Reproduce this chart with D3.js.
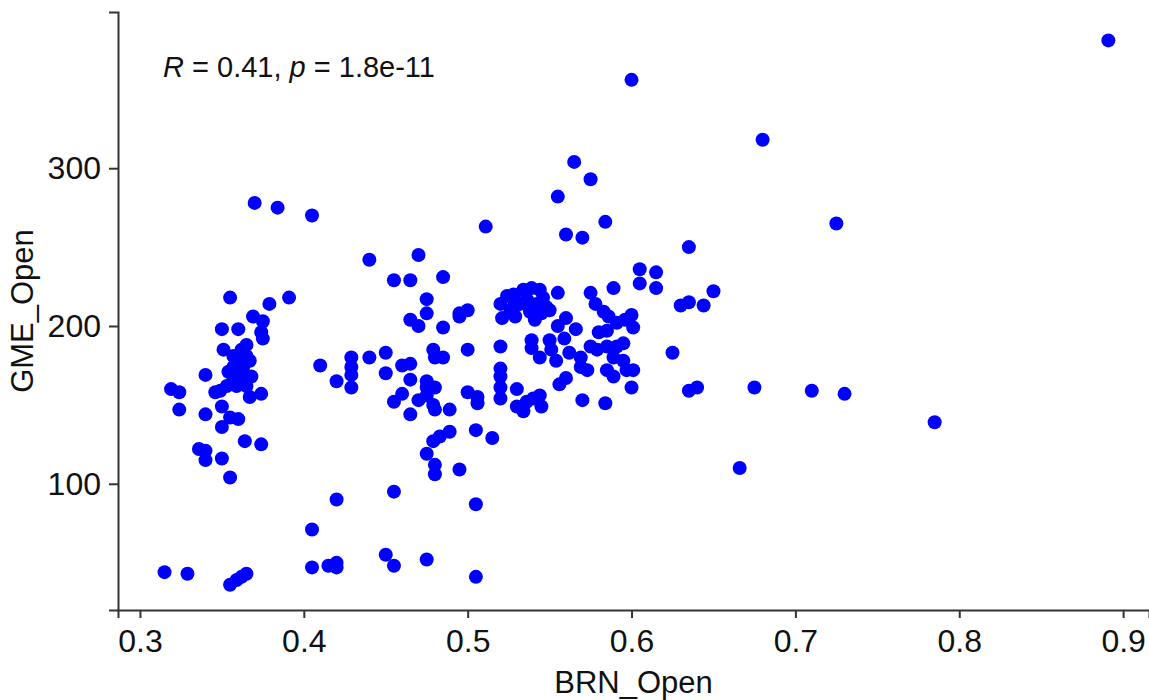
<!DOCTYPE html>
<html>
<head>
<meta charset="utf-8">
<script src="https://cdn.jsdelivr.net/npm/d3@7"></script>
<style>
  body { margin: 0; background: #fff; }
  svg { display: block; font-family: "Liberation Sans", Arial, sans-serif; }
</style>
</head>
<body>
<svg width="1149" height="700"></svg>
<script>
// BRN_Open (x) and GME_Open (y), same order in both arrays
var brnOpen = [
  // left cluster
  0.355,0.379,0.391,0.369,0.375,0.350,0.360,0.374,0.375,0.365,
  0.351,0.357,0.365,0.357,0.363,0.357,0.363,0.353,0.359,0.365,
  0.349,0.367,0.346,0.360,0.354,0.340,0.319,0.324,0.374,0.324,
  0.340,0.350,0.355,0.360,0.350,0.364,0.374,0.336,0.340,0.340,
  0.350,0.355,0.370,0.384,0.405,0.315,0.329,0.355,0.359,0.362,
  0.365,0.361,0.367,0.362,0.358,0.368,
  // middle cluster
  0.440,0.470,0.455,0.465,0.485,0.475,0.475,0.465,0.470,0.485,
  0.495,0.500,0.495,0.479,0.480,0.485,0.500,0.410,0.429,0.429,
  0.429,0.420,0.429,0.440,0.450,0.450,0.460,0.465,0.465,0.475,
  0.475,0.480,0.475,0.470,0.460,0.455,0.479,0.480,0.489,0.465,
  0.500,0.506,0.506,0.505,0.515,0.489,0.483,0.479,0.475,0.480,
  0.480,0.495,0.455,0.420,0.505,0.405,0.405,0.415,0.420,0.420,
  0.450,0.455,0.475,0.505,
  // right-middle cluster
  0.589,0.605,0.615,0.605,0.615,0.555,0.575,0.520,0.524,0.528,
  0.534,0.539,0.544,0.521,0.529,0.528,0.536,0.542,0.548,0.541,
  0.545,0.550,0.520,0.539,0.539,0.550,0.551,0.555,0.560,0.566,
  0.559,0.544,0.554,0.562,0.569,0.575,0.579,0.569,0.573,0.578,
  0.583,0.586,0.591,0.596,0.600,0.601,0.580,0.585,0.585,0.591,
  0.595,0.589,0.595,0.585,0.589,0.597,0.601,0.600,0.520,0.520,
  0.520,0.520,0.530,0.556,0.560,0.530,0.536,0.540,0.544,0.545,
  0.534,0.570,0.584,0.532,0.538,0.526,0.546,
  // upper and right
  0.565,0.575,0.555,0.511,0.584,0.560,0.570,0.635,0.650,0.630,
  0.635,0.644,0.625,0.635,0.640,0.891,0.600,0.680,0.725,0.785,
  0.666,0.675,0.710,0.730
];
var gmeOpen = [
  218,214,218,206,203,198,198,196,192,188,
  185,181,181,174,174,168,168,162,162,162,
  159,155,158,177,171,169,160,158,157,147,
  144,149,142,141,136,127,125,122,121,115,
  116,104,278,275,270,44,43,36,39,41,
  43,171,178,185,165,168,

  242,245,229,229,231,217,208,204,200,199,
  208,210,206,185,180,180,185,175,180,174,
  169,165,161,180,183,170,175,176,166,165,
  161,161,156,153,157,152,150,147,147,144,
  158,155,151,134,129,133,130,127,119,112,
  106,109,95,90,87,71,47,48,50,47,
  55,48,52,41,

  224,236,234,227,224,221,221,214,219,220,
  223,224,223,205,206,212,217,214,212,204,
  208,210,187,191,186,191,185,200,205,198,
  192,180,178,183,180,187,185,174,172,214,
  209,206,202,204,207,199,196,197,187,187,
  189,180,178,172,168,172,172,161,173,168,
  161,154,160,163,167,149,152,154,156,149,
  146,153,151,214,209,209,218,

  304,293,282,263,266,258,256,250,222,213,
  215,213,183,159,161,381,356,318,265,139,
  110,161,159,157
];
var xTicks = [0.3, 0.4, 0.5, 0.6, 0.7, 0.8, 0.9];
var yTicks = [100, 200, 300];
var xTitle = "BRN_Open", yTitle = "GME_Open";
var statR = "0.41", statP = "1.8e-11";

var data = brnOpen.map(function(b, i) { return { x: b, y: gmeOpen[i] }; });

var svg = d3.select("svg");
var pLeft = 118, pRight = 1149, pTop = 12, pBottom = 610;

var scX = d3.scaleLinear().domain([0.2866, 0.9158]).range([pLeft, pRight]);
var scY = d3.scaleLinear().domain([20, 399]).range([pBottom, pTop]);

// axes
var gx = svg.append("g").attr("transform", "translate(0," + pBottom + ")")
    .call(d3.axisBottom(scX).tickValues(xTicks).tickFormat(d3.format(".1f"))
          .tickSizeOuter(0).tickSize(8).tickPadding(11));
var gy = svg.append("g").attr("transform", "translate(" + pLeft + ",0)")
    .call(d3.axisLeft(scY).tickValues(yTicks).tickSizeOuter(0).tickSize(9).tickPadding(8));

[gx, gy].forEach(function(g) {
    g.select(".domain").attr("stroke", "#333").attr("stroke-width", 2);
    g.selectAll(".tick line").attr("stroke", "#333").attr("stroke-width", 2);
    g.selectAll(".tick text").attr("fill", "#111").style("font-size", "32px")
        .style("font-family", "'Liberation Sans', Arial, sans-serif");
});

// points
svg.append("g").selectAll("circle")
    .data(data).enter().append("circle")
    .attr("cx", d => scX(d.x))
    .attr("cy", d => scY(d.y))
    .attr("r", 7)
    .attr("fill", "#0000FF");

// axis titles
svg.append("text")
    .attr("x", (pLeft + pRight) / 2).attr("y", 693)
    .attr("text-anchor", "middle")
    .style("font-size", "31px").attr("fill", "#111")
    .text(xTitle);
svg.append("text")
    .attr("transform", "translate(33," + ((pTop + pBottom) / 2) + ") rotate(-90)")
    .attr("text-anchor", "middle")
    .style("font-size", "31px").attr("fill", "#111")
    .text(yTitle);

// correlation label
var lab = svg.append("text").attr("x", 163).attr("y", 77)
    .style("font-size", "29px").attr("fill", "#111");
lab.append("tspan").style("font-style", "italic").text("R");
lab.append("tspan").text(" = " + statR + ", ");
lab.append("tspan").style("font-style", "italic").text("p");
lab.append("tspan").text(" = " + statP);
</script>
</body>
</html>
